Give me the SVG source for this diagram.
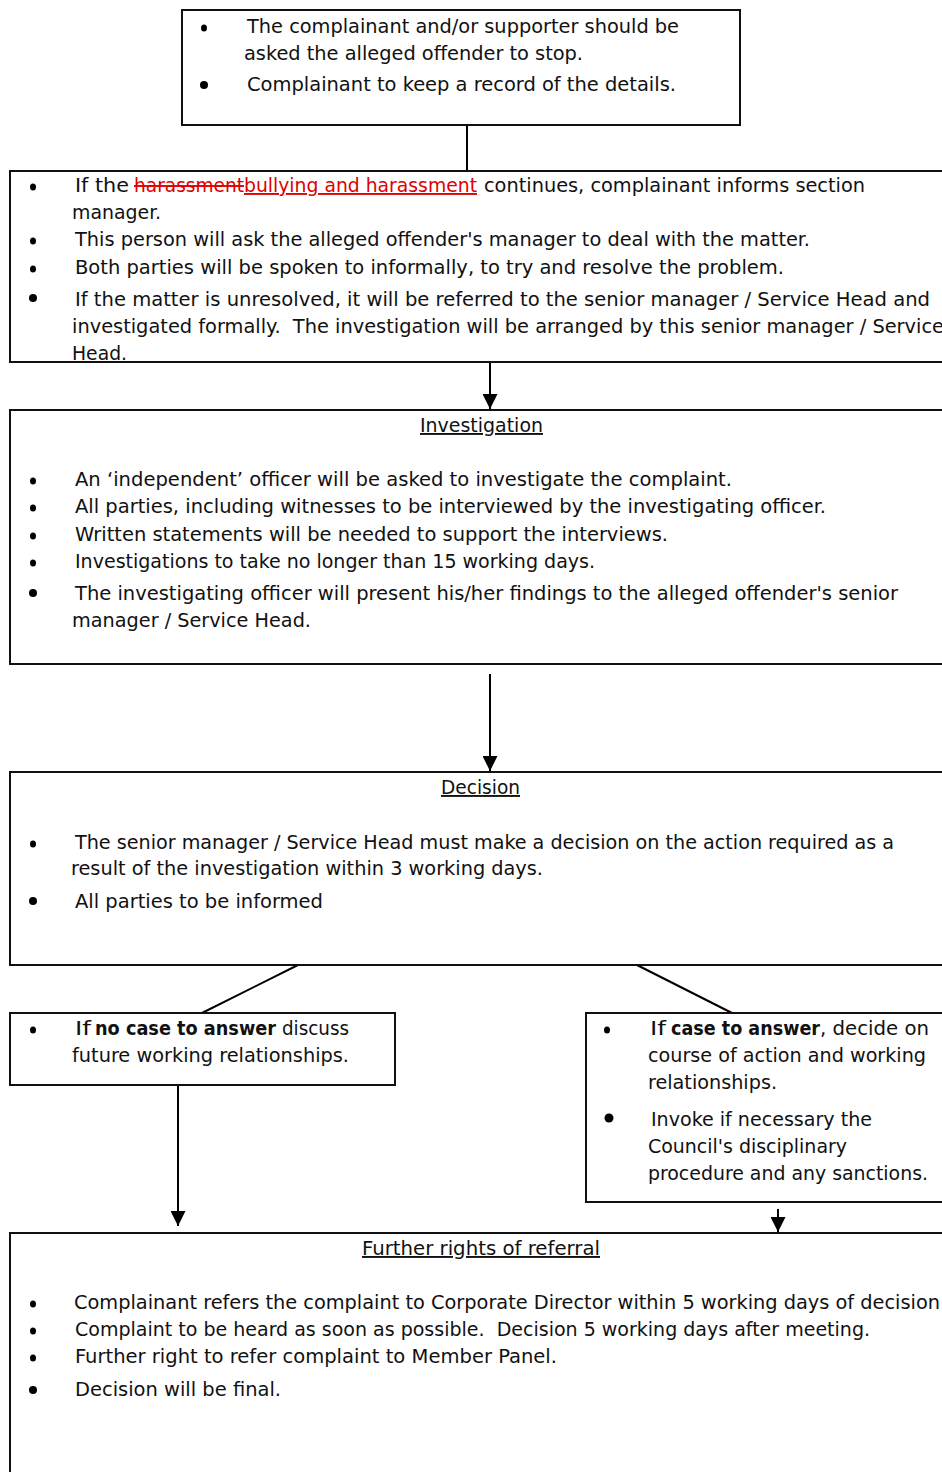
<svg xmlns="http://www.w3.org/2000/svg" width="942" height="1472" viewBox="0 0 942 1472">
<defs>
<style>
.box{fill:#fff;stroke:#111;stroke-width:2}
.ln{stroke:#000;stroke-width:2;fill:none}
text{font-family:"DejaVu Sans Condensed","DejaVu Sans",sans-serif;font-size:19px;fill:#111;white-space:pre}
.b{font-weight:bold}
.u{text-decoration:underline}
.red{fill:#e00000}
.s{text-decoration:line-through}
.dot{fill:#000}
</style>
<marker id="ahL" viewBox="0 0 10 10" refX="10" refY="5" markerWidth="15" markerHeight="15" markerUnits="userSpaceOnUse" orient="auto">
<path d="M0,0 L10,5 L0,10 z" fill="#000"/>
</marker>
</defs>
<rect width="942" height="1472" fill="#fff"/>

<g id="connectors">
<line class="ln" x1="467" y1="125" x2="467" y2="171"/>
<line class="ln" x1="490" y1="362" x2="490" y2="409" marker-end="url(#ahL)"/>
<line class="ln" x1="490" y1="674" x2="490" y2="771" marker-end="url(#ahL)"/>
<line class="ln" x1="300" y1="964" x2="202" y2="1013"/>
<line class="ln" x1="635" y1="964" x2="732" y2="1013"/>
<line class="ln" x1="178" y1="1083" x2="178" y2="1226" marker-end="url(#ahL)"/>
<line class="ln" x1="778" y1="1209" x2="778" y2="1232" marker-end="url(#ahL)"/>
</g>

<g id="node-start">
<rect class="box" x="182" y="10" width="558" height="115"/>
<ellipse class="dot" cx="204" cy="28" rx="3" ry="3.5"/>
<text x="247" y="33" textLength="432" lengthAdjust="spacingAndGlyphs">The complainant and/or supporter should be</text>
<text x="244" y="60" textLength="339" lengthAdjust="spacingAndGlyphs">asked the alleged offender to stop.</text>
<circle class="dot" cx="204" cy="85" r="4"/>
<text x="247" y="91" textLength="429" lengthAdjust="spacingAndGlyphs">Complainant to keep a record of the details.</text>
</g>

<g id="node-informal">
<rect class="box" x="10" y="171" width="950" height="191"/>
<ellipse class="dot" cx="33" cy="187" rx="3" ry="3.5"/>
<text x="75" y="192" textLength="54" lengthAdjust="spacingAndGlyphs">If the</text>
<text class="red s" x="134" y="192" textLength="110" lengthAdjust="spacingAndGlyphs">harassment</text>
<text class="red u" x="244" y="192" textLength="233" lengthAdjust="spacingAndGlyphs">bullying and harassment</text>
<text x="484" y="192" textLength="381" lengthAdjust="spacingAndGlyphs">continues, complainant informs section</text>
<text x="72" y="219" textLength="89" lengthAdjust="spacingAndGlyphs">manager.</text>
<ellipse class="dot" cx="33" cy="241" rx="3" ry="3.5"/>
<text x="75" y="246" textLength="735" lengthAdjust="spacingAndGlyphs">This person will ask the alleged offender's manager to deal with the matter.</text>
<ellipse class="dot" cx="33" cy="269" rx="3" ry="3.5"/>
<text x="75" y="274" textLength="709" lengthAdjust="spacingAndGlyphs">Both parties will be spoken to informally, to try and resolve the problem.</text>
<circle class="dot" cx="33" cy="298" r="4"/>
<text x="75" y="306" textLength="855" lengthAdjust="spacingAndGlyphs">If the matter is unresolved, it will be referred to the senior manager / Service Head and</text>
<text x="72" y="333" textLength="872" lengthAdjust="spacingAndGlyphs" xml:space="preserve">investigated formally.  The investigation will be arranged by this senior manager / Service</text>
<text x="72" y="360" textLength="55" lengthAdjust="spacingAndGlyphs">Head.</text>
</g>

<g id="node-investigation">
<rect class="box" x="10" y="410" width="950" height="254"/>
<text class="u" x="420" y="432" textLength="123" lengthAdjust="spacingAndGlyphs">Investigation</text>
<ellipse class="dot" cx="33" cy="481" rx="3" ry="3.5"/>
<text x="75" y="486" textLength="657" lengthAdjust="spacingAndGlyphs">An ‘independent’ officer will be asked to investigate the complaint.</text>
<ellipse class="dot" cx="33" cy="508" rx="3" ry="3.5"/>
<text x="75" y="513" textLength="751" lengthAdjust="spacingAndGlyphs">All parties, including witnesses to be interviewed by the investigating officer.</text>
<ellipse class="dot" cx="33" cy="536" rx="3" ry="3.5"/>
<text x="75" y="541" textLength="593" lengthAdjust="spacingAndGlyphs">Written statements will be needed to support the interviews.</text>
<ellipse class="dot" cx="33" cy="563" rx="3" ry="3.5"/>
<text x="75" y="568" textLength="520" lengthAdjust="spacingAndGlyphs">Investigations to take no longer than 15 working days.</text>
<circle class="dot" cx="33" cy="593" r="4"/>
<text x="75" y="600" textLength="823" lengthAdjust="spacingAndGlyphs">The investigating officer will present his/her findings to the alleged offender's senior</text>
<text x="72" y="627" textLength="239" lengthAdjust="spacingAndGlyphs">manager / Service Head.</text>
</g>

<g id="node-decision">
<rect class="box" x="10" y="772" width="950" height="193"/>
<text class="u" x="441" y="794" textLength="79" lengthAdjust="spacingAndGlyphs">Decision</text>
<ellipse class="dot" cx="33" cy="844" rx="3" ry="3.5"/>
<text x="75" y="849" textLength="819" lengthAdjust="spacingAndGlyphs">The senior manager / Service Head must make a decision on the action required as a</text>
<text x="71" y="875" textLength="472" lengthAdjust="spacingAndGlyphs">result of the investigation within 3 working days.</text>
<circle class="dot" cx="33" cy="901" r="4"/>
<text x="75" y="908" textLength="248" lengthAdjust="spacingAndGlyphs">All parties to be informed</text>
</g>

<g id="node-no-case">
<rect class="box" x="10" y="1013" width="385" height="72"/>
<ellipse class="dot" cx="33" cy="1030" rx="3" ry="3.5"/>
<text x="75" y="1035" textLength="16" lengthAdjust="spacingAndGlyphs">If</text>
<text class="b" x="95" y="1035" textLength="181" lengthAdjust="spacingAndGlyphs">no case to answer</text>
<text x="282" y="1035" textLength="67" lengthAdjust="spacingAndGlyphs">discuss</text>
<text x="72" y="1062" textLength="277" lengthAdjust="spacingAndGlyphs">future working relationships.</text>
</g>

<g id="node-case">
<rect class="box" x="586" y="1013" width="374" height="189"/>
<ellipse class="dot" cx="607" cy="1030" rx="3" ry="3.5"/>
<text x="650" y="1035" textLength="16" lengthAdjust="spacingAndGlyphs">If</text>
<text class="b" x="671" y="1035" textLength="149" lengthAdjust="spacingAndGlyphs">case to answer</text>
<text x="820" y="1035" textLength="109" lengthAdjust="spacingAndGlyphs">, decide on</text>
<text x="648" y="1062" textLength="278" lengthAdjust="spacingAndGlyphs">course of action and working</text>
<text x="648" y="1089" textLength="129" lengthAdjust="spacingAndGlyphs">relationships.</text>
<circle class="dot" cx="609" cy="1118" r="4.5"/>
<text x="651" y="1126" textLength="221" lengthAdjust="spacingAndGlyphs">Invoke if necessary the</text>
<text x="648" y="1153" textLength="199" lengthAdjust="spacingAndGlyphs">Council's disciplinary</text>
<text x="648" y="1180" textLength="280" lengthAdjust="spacingAndGlyphs">procedure and any sanctions.</text>
</g>

<g id="node-referral">
<rect class="box" x="10" y="1233" width="950" height="260"/>
<text class="u" x="362" y="1255" textLength="238" lengthAdjust="spacingAndGlyphs">Further rights of referral</text>
<ellipse class="dot" cx="33" cy="1304" rx="3" ry="3.5"/>
<text x="74" y="1309" textLength="866" lengthAdjust="spacingAndGlyphs">Complainant refers the complaint to Corporate Director within 5 working days of decision</text>
<ellipse class="dot" cx="33" cy="1331" rx="3" ry="3.5"/>
<text x="75" y="1336" textLength="795" lengthAdjust="spacingAndGlyphs" xml:space="preserve">Complaint to be heard as soon as possible.  Decision 5 working days after meeting.</text>
<ellipse class="dot" cx="33" cy="1358" rx="3" ry="3.5"/>
<text x="75" y="1363" textLength="482" lengthAdjust="spacingAndGlyphs">Further right to refer complaint to Member Panel.</text>
<circle class="dot" cx="33" cy="1390" r="4"/>
<text x="75" y="1396" textLength="206" lengthAdjust="spacingAndGlyphs">Decision will be final.</text>
</g>
</svg>
